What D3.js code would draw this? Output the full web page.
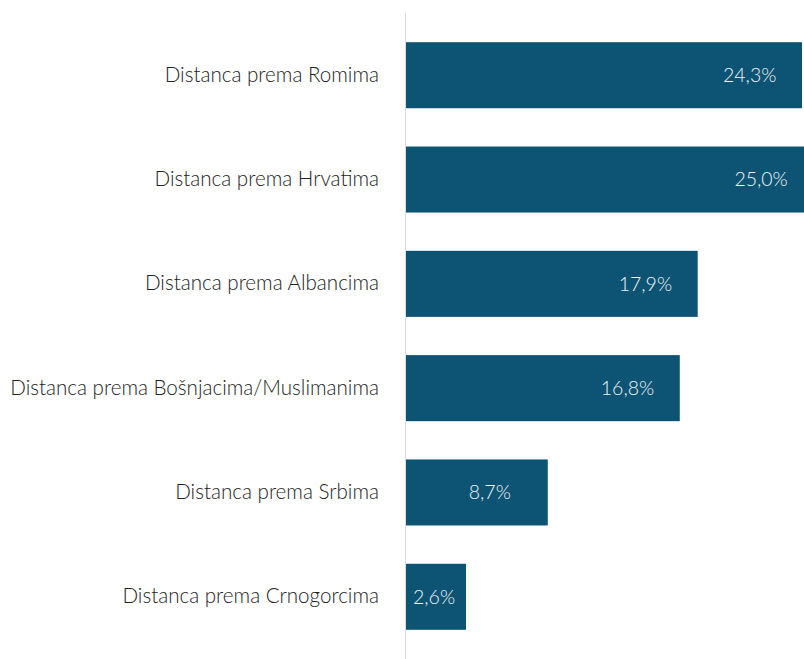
<!DOCTYPE html>
<html>
<head>
<meta charset="utf-8">
<script src="https://cdn.jsdelivr.net/npm/d3@7"></script>
<style>
  body { margin: 0; background: #fff; }
  svg { display: block; font-family: Lato, "Open Sans", sans-serif; font-weight: 300; }
</style>
</head>
<body>
<div class="container"></div>
<script>
// chart data
const categories = [
  'Distanca prema Romima',
  'Distanca prema Hrvatima',
  'Distanca prema Albancima',
  'Distanca prema Bošnjacima/Muslimanima',
  'Distanca prema Srbima',
  'Distanca prema Crnogorcima'
];
const values = [24.3, 25.0, 17.9, 16.8, 8.7, 2.6];

const width = 804;
const height = 659;
const axisX = 405;

function formatPct(v) {
  return v.toFixed(1).replace('.', ',') + '%';
}

const svg = d3.select('.container')
  .append('svg')
  .attr('width', width)
  .attr('height', height);

const yScale = d3.scaleBand()
  .domain(categories)
  .range([13, 659])
  .paddingInner(0.367)
  .paddingOuter(0.28);

// 25,0% runs off the right edge in the original, so the scale is set on 24,3
const xScale = d3.scaleLinear()
  .domain([0, 24.3])
  .range([axisX + 1, 802]);

const minBar = 60;
const barEnd = v => Math.max(xScale(v), xScale(0) + minBar);

svg.append('g')
  .selectAll('rect')
  .data(values)
  .enter().append('rect')
  .attr('x', xScale(0))
  .attr('y', (d, i) => yScale(categories[i]))
  .attr('width', d => barEnd(d) - xScale(0))
  .attr('height', yScale.bandwidth())
  .style('fill', '#0c5374');

// value labels inside the bars
svg.append('g')
  .selectAll('text')
  .data(values)
  .enter().append('text')
  .attr('x', d => Math.max(xScale(0) + 7, barEnd(d) - 79))
  .attr('y', (d, i) => yScale(categories[i]) + yScale.bandwidth() / 2)
  .attr('dy', '0.35em')
  .style('fill', '#f2f4f6')
  .style('font-size', '19.5px')
  .text(formatPct);

// category axis
const yAxis = d3.axisLeft(yScale).tickSize(0).tickPadding(26);
const ax = svg.append('g')
  .attr('transform', `translate(${axisX},0)`)
  .call(yAxis);
ax.select('.domain').attr('stroke', '#dcdcdc').attr('d', `M0.5,13V${height}`);
ax.selectAll('text')
  .style('font-family', 'Lato, "Open Sans", sans-serif')
  .style('font-size', '20.6px')
  .style('fill', '#222');
</script>
</body>
</html>
